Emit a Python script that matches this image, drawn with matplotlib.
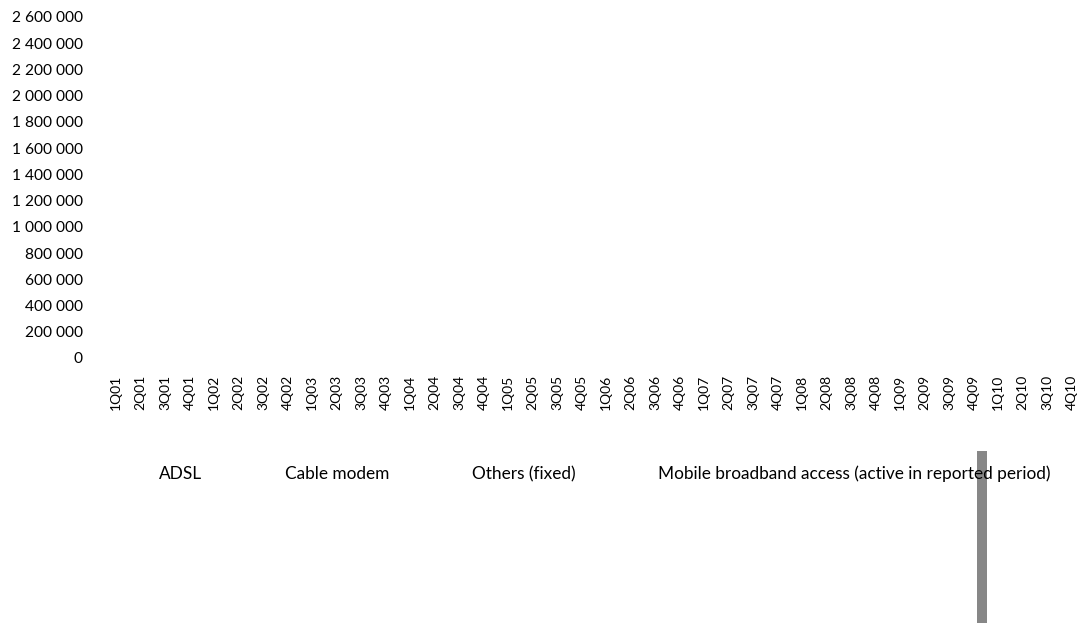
import matplotlib.pyplot as plt
import numpy as np

plt.rcParams['font.family'] = ['Lato', 'DejaVu Sans']

# quarters 1Q01 .. 4Q10
years = ['01', '02', '03', '04', '05', '06', '07', '08', '09', '10']
quarters = [q + 'Q' + y for y in years for q in ['1', '2', '3', '4']]

series_names = ['ADSL', 'Cable modem', 'Others (fixed)',
                'Mobile broadband access (active in reported period)']

# the only visible mark: a stray grey bar near 4Q09, below the axis
stray_q = '4Q09'
stray_bottom = -710000
stray_height = -1500000

yticks = np.arange(0, 2600001, 200000)

fig = plt.figure(figsize=(10.86, 6.23), dpi=100)
ax = fig.add_axes([0.0955, 0.4254, 0.9024, 0.5474])

x = np.arange(len(quarters))
# empty series (no values reported) -> only legend entries
for name in series_names:
    ax.plot([], [], color='none', label=name)

ax.bar(quarters.index(stray_q) + 0.15, stray_height, bottom=stray_bottom,
       width=0.42, align='edge', color='#878787', clip_on=False)

ax.set_xlim(-0.5, len(quarters) - 0.5)
ax.set_ylim(0, 2600000)
ax.set_xticks(x)
ax.set_xticklabels(quarters, rotation=90, fontsize=10)
ax.set_yticks(yticks)
ax.set_yticklabels([f'{v:,}'.replace(',', ' ') for v in yticks], fontsize=11.2)
ax.tick_params(length=0)
ax.tick_params(axis='y', pad=15)
ax.tick_params(axis='x', pad=12)
for s in ax.spines.values():
    s.set_visible(False)

fig.legend(loc='center', bbox_to_anchor=(0.535, 0.239), ncol=4, frameon=False,
           fontsize=12.4, handlelength=2, handletextpad=0.8, columnspacing=2.0)

fig.savefig('out.png', dpi=100)
